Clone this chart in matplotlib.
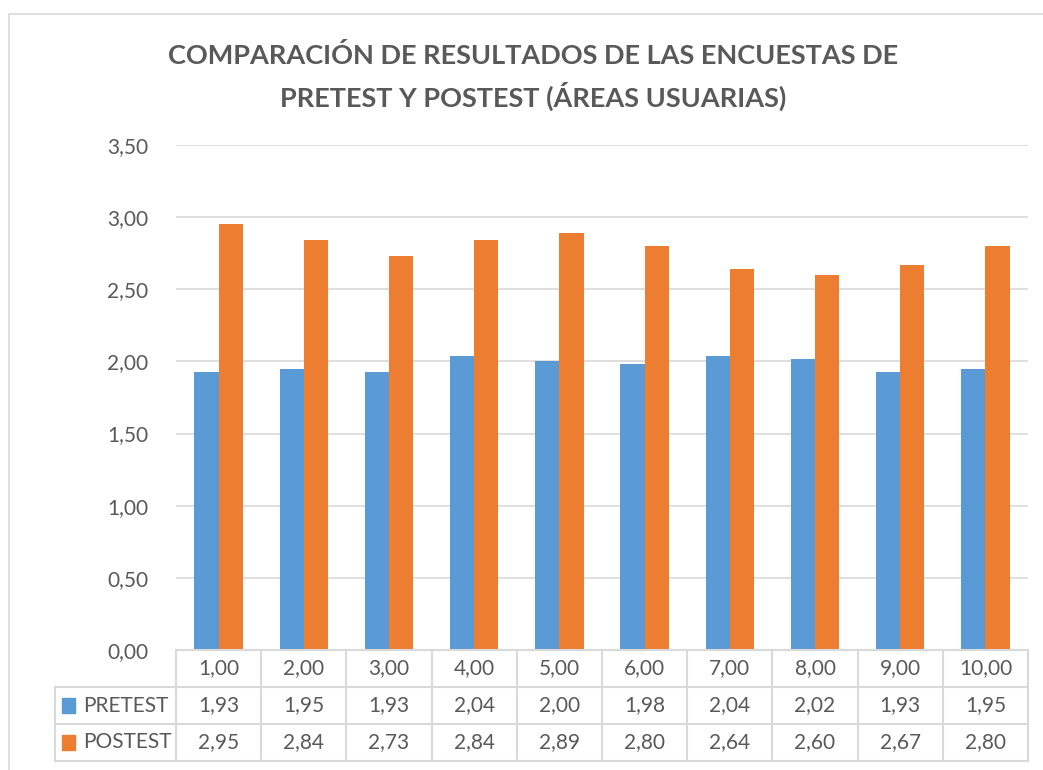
import numpy as np
import matplotlib.pyplot as plt
from matplotlib.patches import Rectangle

categories = ["1,00", "2,00", "3,00", "4,00", "5,00", "6,00", "7,00", "8,00", "9,00", "10,00"]
pretest = [1.93, 1.95, 1.93, 2.04, 2.00, 1.98, 2.04, 2.02, 1.93, 1.95]
postest = [2.95, 2.84, 2.73, 2.84, 2.89, 2.80, 2.64, 2.60, 2.67, 2.80]
series_names = ["PRETEST", "POSTEST"]
colors = ["#5b9bd5", "#ed7d31"]
title = "COMPARACIÓN DE RESULTADOS DE LAS ENCUESTAS DE\nPRETEST Y POSTEST (ÁREAS USUARIAS)"

plt.rcParams['font.family'] = ['Lato', 'DejaVu Sans']
text_color = "#595959"
grid_color = "#d9d9d9"

W, H = 1043, 770
fig = plt.figure(figsize=(W / 100, H / 100), dpi=100)

# chart frame
fig.patches.append(Rectangle((9 / W, -0.1), 1.2, 1 - 14 / H + 0.1, transform=fig.transFigure,
                             fill=False, edgecolor=grid_color, lw=1.2))

left, right, bottom, top = 176, 1028, 650, 145
ax = fig.add_axes([left / W, 1 - bottom / H, (right - left) / W, (bottom - top) / H])

n = len(categories)
x = np.arange(n)
bw = 0.285
ax.bar(x - bw / 2, pretest, bw, color=colors[0], zorder=3)
ax.bar(x + bw / 2, postest, bw, color=colors[1], zorder=3)

ax.set_xlim(-0.5, n - 0.5)
ax.set_ylim(0, 3.5)
yt = np.arange(0, 3.51, 0.5)
ax.set_yticks(yt)
ax.set_yticklabels([f"{v:.2f}".replace(".", ",") for v in yt], fontsize=15, color=text_color)
ax.set_xticks([])
ax.tick_params(axis='y', length=0, pad=20)
ax.grid(axis='y', color=grid_color, lw=1.2, zorder=0)
for s in ax.spines.values():
    s.set_visible(False)

# data table
row_h = 37 / (bottom - top)
tr = ax.get_xaxis_transform()
lbl_left = (55 - left) / (right - left) * n - 0.5
for r in range(3):
    yc = -(r + 0.5) * row_h
    if r == 0:
        for i, c in enumerate(categories):
            ax.text(i, yc, c, transform=tr, ha='center', va='center', fontsize=15,
                    color=text_color, clip_on=False)
    else:
        vals = [pretest, postest][r - 1]
        for i, v in enumerate(vals):
            ax.text(i, yc, f"{v:.2f}".replace(".", ","), transform=tr, ha='center',
                    va='center', fontsize=15, color=text_color, clip_on=False)
        ax.add_patch(Rectangle((lbl_left + 0.08, yc - 0.0145), 0.16, 0.029, transform=tr,
                               color=colors[r - 1], clip_on=False))
        ax.text(lbl_left + 0.33, yc, series_names[r - 1], transform=tr, ha='left',
                va='center', fontsize=15, color=text_color, clip_on=False)

# table lines
for r in range(4):
    x0 = -0.5 if r == 0 else lbl_left
    ax.plot([x0, n - 0.5], [-r * row_h] * 2, transform=tr, color=grid_color, lw=1.5,
            clip_on=False, zorder=4)
for i in range(n + 1):
    ax.plot([i - 0.5] * 2, [0, -3 * row_h], transform=tr, color=grid_color, lw=1.5,
            clip_on=False)
ax.plot([lbl_left] * 2, [-row_h, -3 * row_h], transform=tr, color=grid_color, lw=1.5,
        clip_on=False)

fig.text(533 / W, 1 - 77 / H, title, ha='center', va='center', fontsize=19.5,
         fontweight='bold', color=text_color, linespacing=1.55)

fig.savefig("out.png", dpi=100)
